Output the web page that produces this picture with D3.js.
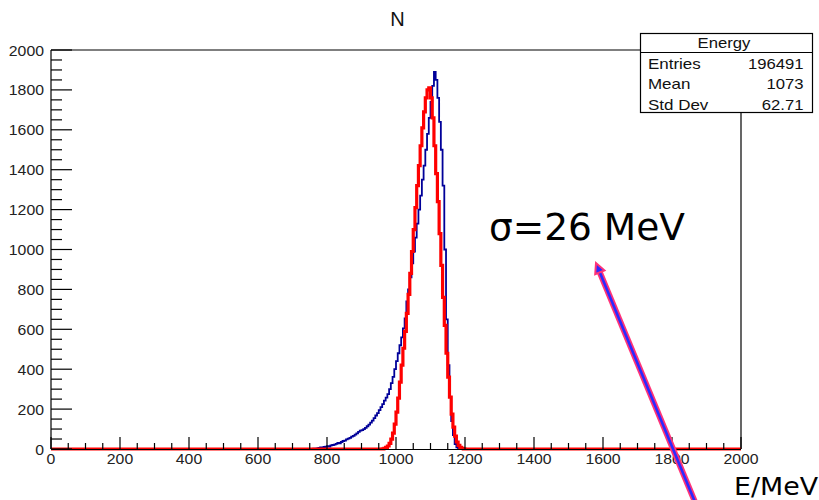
<!DOCTYPE html>
<html>
<head>
<meta charset="utf-8">
<script src="https://cdn.jsdelivr.net/npm/d3@7"></script>
<style>
html,body{margin:0;padding:0;background:#fff;}
svg{display:block;}
</style>
</head>
<body>
<svg id="chart" width="819" height="500"></svg>
<script>
// ---- data ----
const xTicks = [0,200,400,600,800,1000,1200,1400,1600,1800,2000];
const yTicks = [0,200,400,600,800,1000,1200,1400,1600,1800,2000];
const binWidth = 5;
const blueStart = 750;
const blueCounts = [
  0,0,2,0,3,5,8,6,10,12,
  14,12,18,20,22,26,30,28,35,40,
  42,48,52,56,62,66,72,78,86,92,
  95,100,106,114,122,132,142,155,168,180,
  195,210,225,242,258,275,300,330,362,400,
  440,480,520,560,605,655,740,800,860,930,
  990,1060,1130,1200,1270,1350,1420,1500,1580,1660,
  1740,1820,1890,1850,1760,1640,1500,1320,1000,650,
  420,260,140,70,25,8,2,0
];
const redStart = 950;
const redCounts = [
  0,0,1,3,8,15,28,50,80,125,
  185,255,335,420,505,590,680,775,880,990,
  1100,1210,1320,1420,1520,1610,1690,1760,1800,1810,
  1760,1660,1520,1380,1240,1080,920,760,620,480,
  360,260,175,110,65,35,18,8,3,1,0
];
const statsTitle = "Energy";
const statsRows = [["Entries","196491"],["Mean","1073"],["Std Dev","62.71"]];
const histTitle = "N";
const sigmaLabel = "σ=26 MeV";
const xAxisLabel = "E/MeV";

// ---- drawing ----
const svg = d3.select("#chart");
const x = d3.scaleLinear().domain([0,2000]).range([51,741]);
const y = d3.scaleLinear().domain([0,2000]).range([449,50]);

function stepPoints(start, counts){
  const pts = [[0,0],[start,0]];
  counts.forEach((c,i)=>{
    const e0 = start + i*binWidth, e1 = e0 + binWidth;
    pts.push([e0,c]); pts.push([e1,c]);
  });
  const end = start + counts.length*binWidth;
  pts.push([end,0]); pts.push([2000,0]);
  return pts;
}
const line = d3.line().x(d=>x(d[0])).y(d=>y(d[1]));

// frame
const frame = svg.append("g");
frame.append("line").attr("x1",x(0)).attr("x2",640).attr("y1",y(2000)).attr("y2",y(2000)).attr("stroke","#000").attr("stroke-width",1.2);
frame.append("line").attr("x1",x(2000)).attr("x2",x(2000)).attr("y1",112).attr("y2",y(0)).attr("stroke","#000").attr("stroke-width",1.2);

// blue histogram
svg.append("path").attr("d",line(stepPoints(blueStart,blueCounts)))
  .attr("fill","none").attr("stroke","#000099").attr("stroke-width",1.8);
// red histogram
svg.append("path").attr("d",line(stepPoints(redStart,redCounts)))
  .attr("fill","none").attr("stroke","#ff0000").attr("stroke-width",3.2);

// axes
const axes = svg.append("g").attr("stroke","#000");
axes.append("line").attr("x1",x(0)).attr("x2",x(0)).attr("y1",y(0)).attr("y2",y(2000)).attr("stroke-width",1.2);
axes.append("line").attr("x1",x(0)).attr("x2",x(2000)).attr("y1",y(0)+0.5).attr("y2",y(0)+0.5).attr("stroke-width",1.2);
d3.range(0,2001,50).forEach(v=>{
  const major = v%200===0;
  axes.append("line").attr("x1",x(0)).attr("x2",x(0)+(major?21:11))
    .attr("y1",y(v)).attr("y2",y(v)).attr("stroke-width",1.2);
});
d3.range(0,2001,50).forEach(v=>{
  const major = v%200===0;
  axes.append("line").attr("x1",x(v)).attr("x2",x(v))
    .attr("y1",y(0)).attr("y2",y(0)-(major?12:6)).attr("stroke-width",1.2);
});

function stext(g, txt, tx, ty, size, anchor, sx, family, fill){
  return g.append("text").text(txt)
    .attr("transform",`translate(${tx},${ty}) scale(${sx},1)`)
    .attr("text-anchor",anchor)
    .attr("font-family",family||"'Liberation Sans', Arial, sans-serif")
    .attr("font-size",size).attr("fill",fill||"#222");
}
const lab = svg.append("g");
yTicks.forEach(v=> stext(lab, String(v), 44, y(v)+5.5, 14, "end", 1.13));
xTicks.forEach(v=> stext(lab, String(v), x(v), 463.5, 14, "middle", 1.13));

// title
stext(svg, histTitle, 397.5, 25.5, 20, "middle", 1.0, null, "#111");

// stats box
const sb = svg.append("g");
sb.append("rect").attr("x",640.5).attr("y",33.5).attr("width",172).attr("height",79)
  .attr("fill","#fff").attr("stroke","#000").attr("stroke-width",1.2);
sb.append("line").attr("x1",640.5).attr("x2",812.5).attr("y1",52.5).attr("y2",52.5).attr("stroke","#000").attr("stroke-width",1.2);
stext(sb, statsTitle, 724, 47.5, 14.5, "middle", 1.15, null, "#111");
statsRows.forEach((r,i)=>{
  const by = 68.5 + i*20.5;
  stext(sb, r[0], 648, by, 14.5, "start", 1.17, null, "#111");
  stext(sb, r[1], 803.5, by, 14.5, "end", 1.15, null, "#111");
});

// annotation arrow
const ax1 = 695, ay1 = 502, ax2 = 598, ay2 = 268;
svg.append("line").attr("x1",ax1).attr("y1",ay1).attr("x2",ax2).attr("y2",ay2)
  .attr("stroke","#ff3377").attr("stroke-width",6);
svg.append("line").attr("x1",ax1).attr("y1",ay1).attr("x2",ax2).attr("y2",ay2)
  .attr("stroke","#2a2aff").attr("stroke-width",2.6);
const ang = Math.atan2(ay2-ay1, ax2-ax1);
const tipX = 596, tipY = 263, L = 10, W = 5;
const bx = tipX - L*Math.cos(ang), by = tipY - L*Math.sin(ang);
const hp = [[tipX,tipY],[bx + W*Math.sin(ang), by - W*Math.cos(ang)],[bx - W*Math.sin(ang), by + W*Math.cos(ang)]];
svg.append("polygon").attr("points",hp.map(p=>p.join(",")).join(" "))
  .attr("fill","#2a2aff").attr("stroke","#ff3377").attr("stroke-width",2);

// sigma label
svg.append("text").text(sigmaLabel).attr("x",489).attr("y",240)
  .attr("font-family","'DejaVu Sans', sans-serif").attr("font-size",37.5).attr("fill","#000");
// x axis label
svg.append("text").text(xAxisLabel).attr("x",734).attr("y",495)
  .attr("font-family","'DejaVu Sans', sans-serif").attr("font-size",24)
  .attr("textLength",84).attr("lengthAdjust","spacingAndGlyphs").attr("fill","#000");
</script>
</body>
</html>
